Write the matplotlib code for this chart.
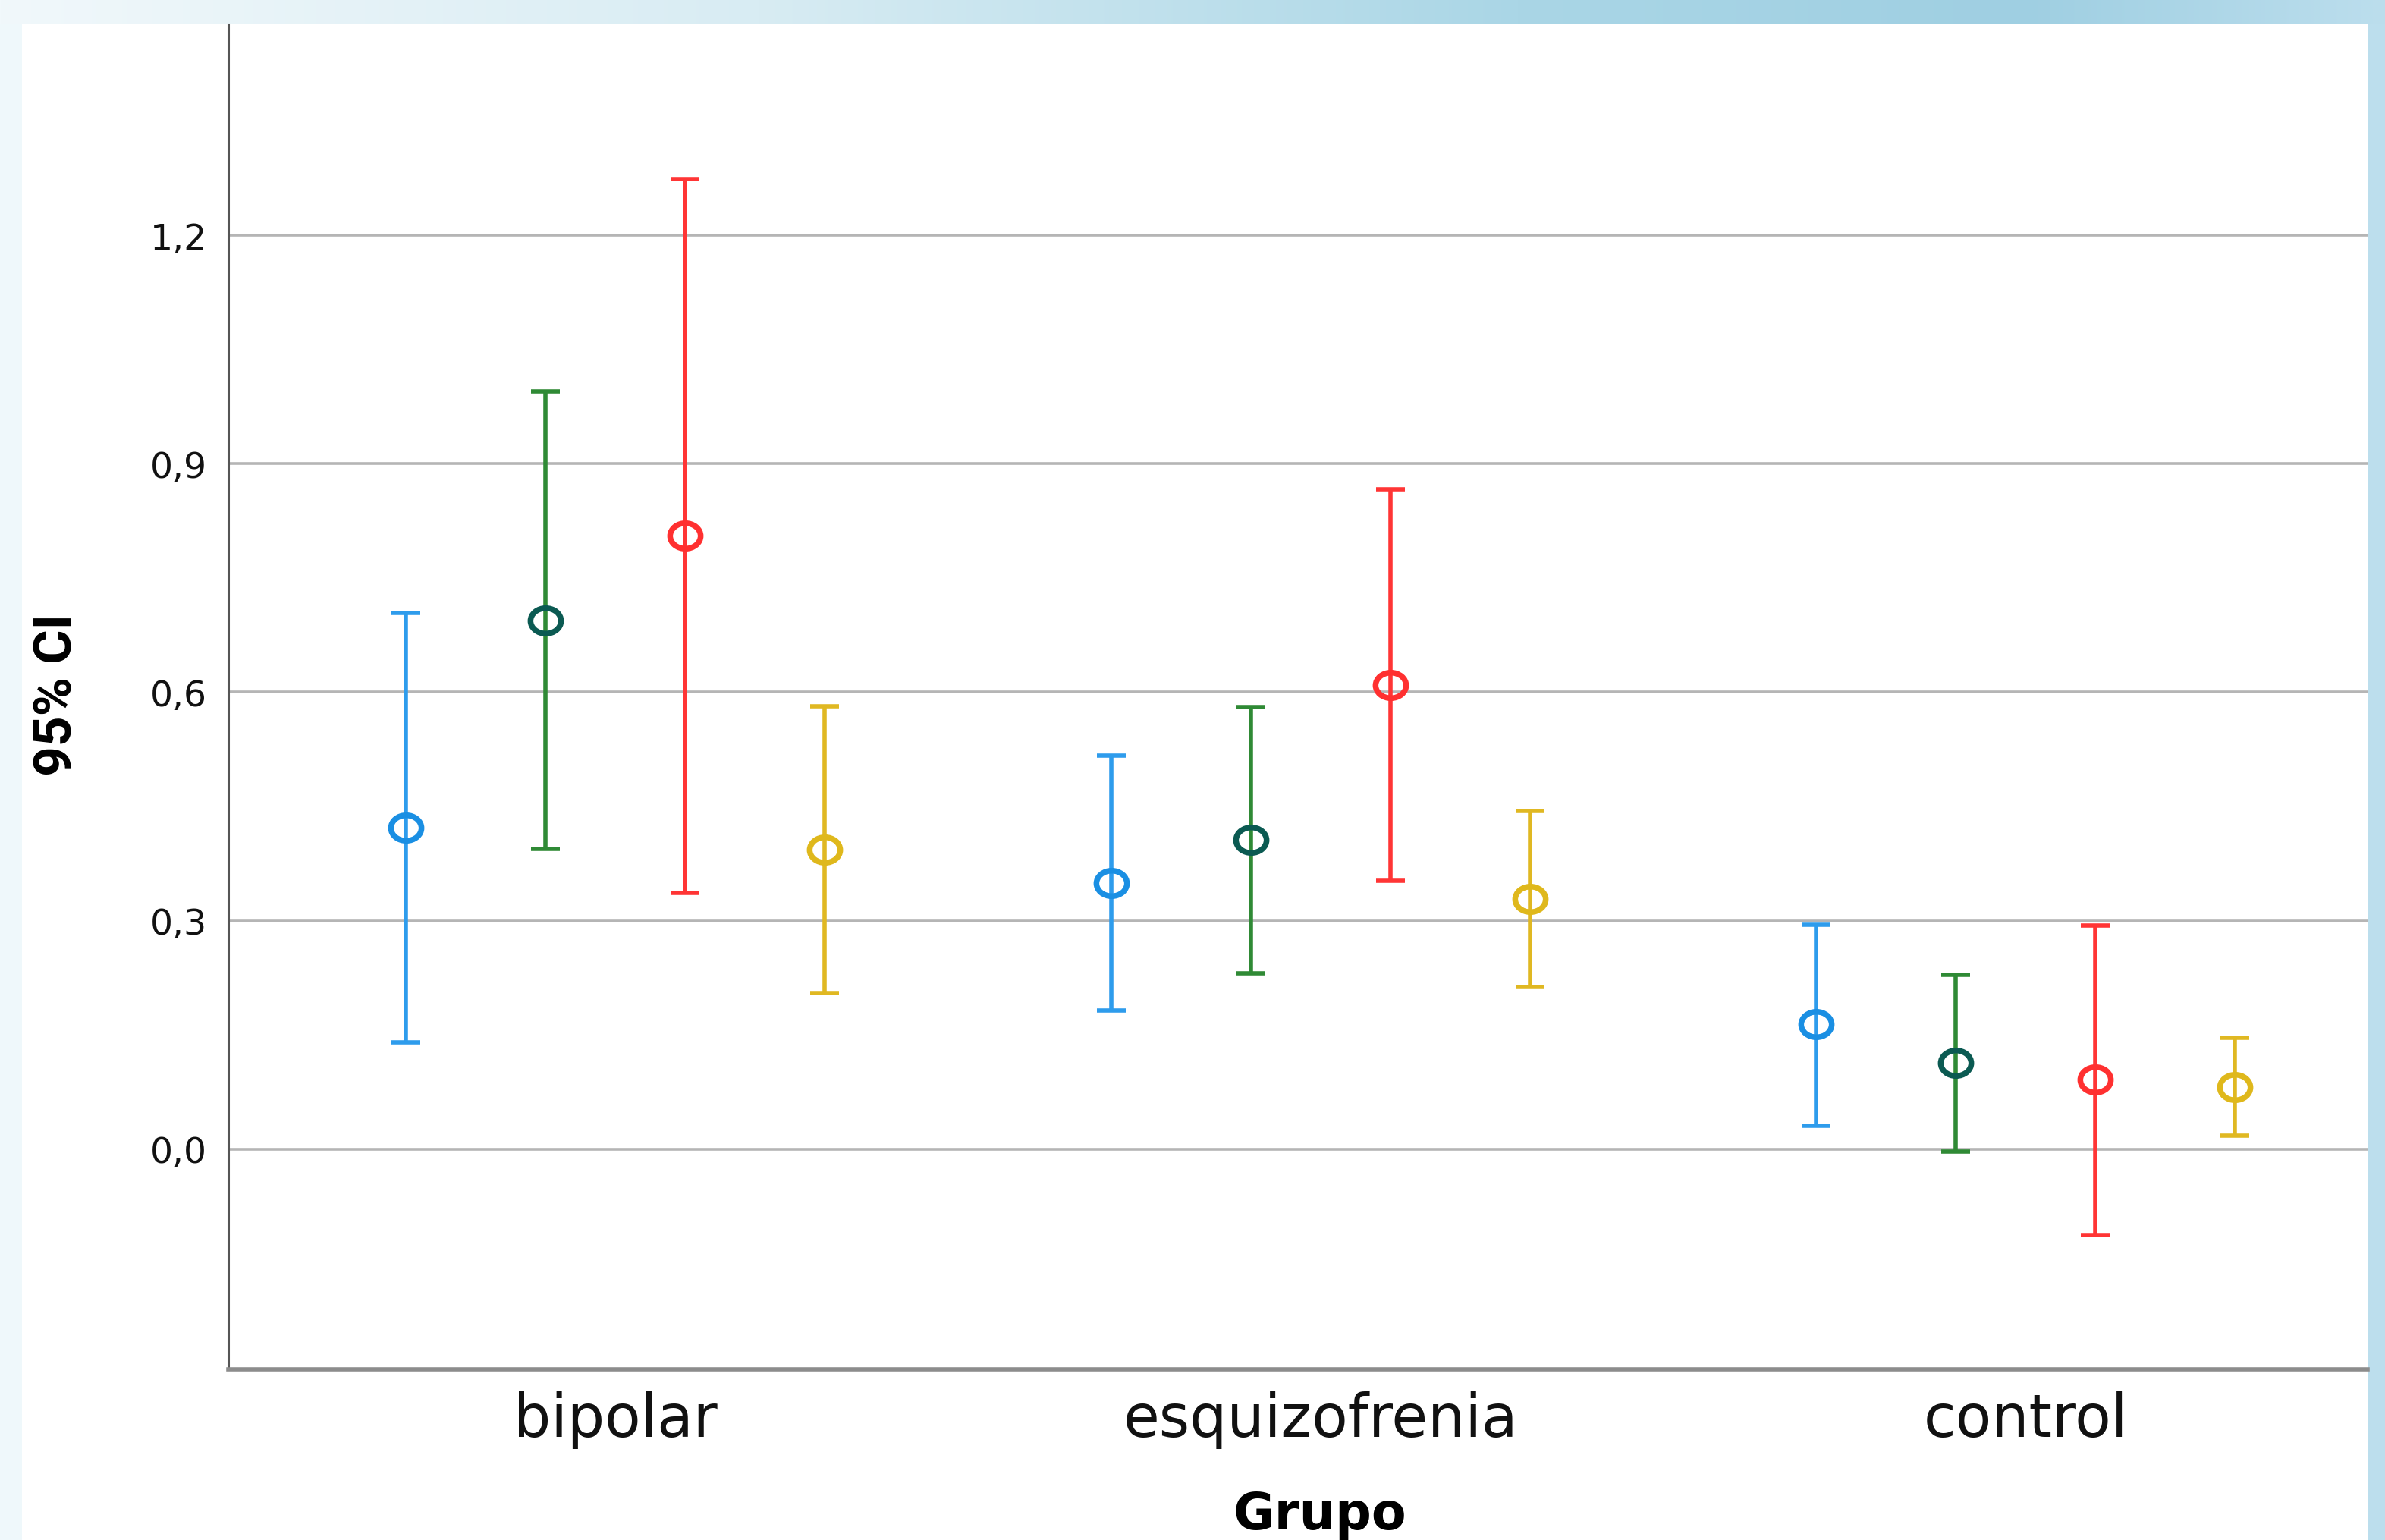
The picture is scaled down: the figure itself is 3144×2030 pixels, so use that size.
import numpy as np
import matplotlib.pyplot as plt
from matplotlib.path import Path
from matplotlib.transforms import Affine2D
from matplotlib.ticker import FuncFormatter
from matplotlib.colors import to_rgb
from matplotlib.patches import Rectangle

# datos (media e intervalo de confianza al 95%)
grupos = ['bipolar', 'esquizofrenia', 'control']

media_1 = [0.422, 0.349, 0.164]
inf_1 = [0.140, 0.182, 0.031]
sup_1 = [0.704, 0.517, 0.295]

media_2 = [0.694, 0.406, 0.113]
inf_2 = [0.394, 0.231, -0.003]
sup_2 = [0.995, 0.581, 0.229]

media_3 = [0.806, 0.609, 0.091]
inf_3 = [0.337, 0.352, -0.113]
sup_3 = [1.274, 0.866, 0.294]

media_4 = [0.393, 0.329, 0.082]
inf_4 = [0.205, 0.213, 0.018]
sup_4 = [0.582, 0.444, 0.146]

ticks_y = [0.0, 0.3, 0.6, 0.9, 1.2]

series = [
    (media_1, inf_1, sup_1, '#2e9cec', '#1a8fe3'),
    (media_2, inf_2, sup_2, '#2f8a35', '#0b5a52'),
    (media_3, inf_3, sup_3, '#ff3535', '#ff3030'),
    (media_4, inf_4, sup_4, '#e0b822', '#dfb81c'),
]

W, H = 3144, 2031
fig = plt.figure(figsize=(W / 100, H / 100), dpi=100)
fig.patch.set_facecolor('white')

# marco de fondo (banda superior con degradado y franjas laterales)
bg = fig.add_axes([0, 0, 1, 1], zorder=-10)
bg.set_axis_off()
stops_x = [0, 1000, 2000, 2670, W]
stops_c = [to_rgb(c) for c in ['#f1f8fb', '#d8ecf3', '#aad6e6', '#9fcfe2', '#bcdeed']]
xs = np.arange(W)
grad = np.stack([np.interp(xs, stops_x, [c[k] for c in stops_c]) for k in range(3)], axis=-1)
bg.imshow(grad[np.newaxis, :, :], extent=[0, W, 33, 0], aspect='auto')
bg.add_patch(Rectangle((0, 33), 29, H, color='#eff8fb', lw=0))
bg.add_patch(Rectangle((3121, 33), W - 3121, H, color='#bcdeed', lw=0))
bg.set_xlim(0, W)
bg.set_ylim(H, 0)

ax = fig.add_axes([301 / W, 225 / H, (3121 - 301) / W, (1806 - 33) / H])
ax.set_facecolor('white')

elipse = Path.unit_circle().transformed(Affine2D().scale(1.2, 1.0))

x0 = np.arange(len(grupos))
for i, (media, inf, sup, c_barra, c_marca) in enumerate(series):
    m = np.array(media)
    lo = m - np.array(inf)
    hi = np.array(sup) - m
    x = x0 + (i - 1.5) * 0.198
    ax.errorbar(x, m, yerr=[lo, hi], fmt='none', ecolor=c_barra,
                elinewidth=4, capsize=14, capthick=4, zorder=3)
    ax.plot(x, m, linestyle='none', marker=elipse, markersize=29,
            mfc='none', mec=c_marca, mew=5.4, zorder=4)

ax.set_xlim(-0.549, 2.485)
ax.set_ylim(-0.289, 1.477)
ax.set_xticks(x0)
ax.set_xticklabels(grupos)
ax.set_yticks(ticks_y)
ax.yaxis.set_major_formatter(FuncFormatter(lambda v, p: f'{v:.1f}'.replace('.', ',')))
ax.yaxis.grid(True, color='#b5b5b5', linewidth=2.6)
ax.set_axisbelow(True)

ax.spines['top'].set_visible(False)
ax.spines['right'].set_visible(False)
ax.spines['left'].set_color('#555555')
ax.spines['left'].set_linewidth(2.2)
ax.spines['bottom'].set_color('#8c8c8c')
ax.spines['bottom'].set_linewidth(4)

ax.tick_params(axis='both', length=0)
ax.tick_params(axis='y', pad=20, labelsize=34, labelcolor='#111111')
ax.tick_params(axis='x', pad=20, labelsize=56, labelcolor='#111111')

fig.text(76 / W, 1 - 916 / H, '95% CI', rotation=90, ha='center', va='center',
         fontsize=50, fontweight='bold', family=['Roboto', 'DejaVu Sans'])
fig.text(1740 / W, (H - 2016) / H, 'Grupo', ha='center', va='baseline',
         fontsize=48, fontweight='bold')

fig.savefig('out.png', dpi=100)
